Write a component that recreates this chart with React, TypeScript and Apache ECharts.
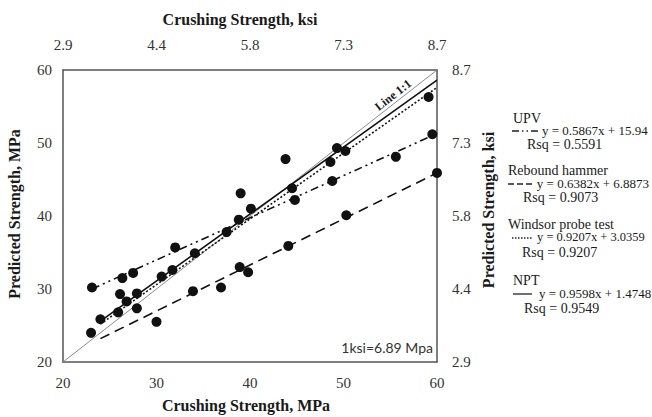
import React, { useEffect, useRef } from 'react';
import * as echarts from 'echarts';

const mpaTicks = [20, 30, 40, 50, 60];
const ksiTickLabels = ['2.9', '4.4', '5.8', '7.3', '8.7'];

const upvPoints = [[23.1, 30.2], [26.35, 31.5], [27.5, 32.2], [32.0, 35.7], [39.0, 43.1], [43.8, 47.8], [44.8, 42.2], [48.8, 44.8], [55.6, 48.1], [59.5, 51.2]];
const reboundPoints = [[23.0, 24.0], [30.0, 25.5], [33.9, 29.7], [36.9, 30.2], [38.9, 33.0], [39.8, 32.3], [44.1, 35.9], [50.3, 40.1], [60.0, 45.9]];
const windsorPoints = [[24.0, 25.85], [26.1, 29.3], [27.9, 27.35], [30.55, 31.7], [34.1, 34.9], [38.8, 39.5], [44.5, 43.8], [48.6, 47.4], [50.2, 48.9]];
const nptPoints = [[25.9, 26.8], [26.8, 28.3], [27.9, 29.4], [31.7, 32.6], [37.5, 37.8], [40.1, 41.0], [49.3, 49.3], [59.1, 56.3]];

const upvTrend = [[23.1, 30.0], [60, 51.3]];
const reboundTrend = [[24, 23.2], [60, 45.9]];
const windsorTrend = [[24, 25.2], [60, 57.6]];
const nptTrend = [[24, 25.6], [60, 58.6]];
const oneToOne = [[20, 20], [60, 60]];

const legendRows = [
  { name: 'UPV', eq: 'y = 0.5867x + 15.94', rsq: 'Rsq = 0.5591' },
  { name: 'Rebound hammer', eq: 'y = 0.6382x + 6.8873', rsq: 'Rsq = 0.9073' },
  { name: 'Windsor probe test', eq: 'y = 0.9207x + 3.0359', rsq: 'Rsq = 0.9207' },
  { name: 'NPT', eq: 'y = 0.9598x + 1.4748', rsq: 'Rsq = 0.9549' },
];

const SERIF = '"Liberation Serif", "Times New Roman", serif';
const TXT = '#1a1a1a';
const AX = '#555';

function txt(text: string, x: number, y: number, opts: any = {}) {
  return {
    type: 'text',
    x,
    y,
    rotation: opts.rotation || 0,
    z: 100,
    style: {
      text,
      fill: opts.fill || TXT,
      font: opts.font || `14px ${SERIF}`,
      align: opts.align || 'left',
      textAlign: opts.align || 'left',
      verticalAlign: 'middle',
      textVerticalAlign: 'middle',
    },
  };
}

function lineEl(x1: number, x2: number, y: number, dash: any) {
  return {
    type: 'line',
    z: 100,
    shape: { x1, y1: y, x2, y2: y },
    style: { stroke: '#222', lineWidth: 1.3, lineDash: dash },
  };
}

export default function App() {
  const ref = useRef<HTMLDivElement>(null);
  useEffect(() => {
    const chart = echarts.init(ref.current!, null, { renderer: 'svg' });
    const axisCommon = {
      type: 'value',
      min: 20,
      max: 60,
      interval: 10,
      axisTick: { show: false },
      splitLine: { show: false },
      axisLine: { show: true, onZero: false, lineStyle: { color: AX, width: 1.5 } },
    };
    const lbl = { fontFamily: SERIF, fontSize: 15, color: '#333' };
    const ksiFmt = (v: number) => ksiTickLabels[mpaTicks.indexOf(v)] ?? '';
    const scatter = (data: number[][]) => ({
      type: 'scatter',
      data,
      symbolSize: 10,
      itemStyle: { color: '#111', opacity: 1 },
      z: 5,
    });
    const trend = (data: number[][], type: any, width = 1.6, color = '#111') => ({
      type: 'line',
      data,
      showSymbol: false,
      symbol: 'none',
      lineStyle: { color, width, type },
      z: 3,
    });
    const EQ = `13px ${SERIF}`;
    const rowY = [[118, 130, 144], [170, 183, 197], [224, 237, 252], [280, 293, 308]];
    const graphic: any[] = [
      txt('Crushing Strength, ksi', 240, 19, { font: `bold 16px ${SERIF}`, align: 'center' }),
      txt('Crushing Strength, MPa', 246, 405, { font: `bold 16px ${SERIF}`, align: 'center' }),
      txt('Predicted Strength, MPa', 14, 214, { font: `bold 16px ${SERIF}`, align: 'center', rotation: Math.PI / 2 }),
      txt('Predicted Strength, ksi', 488, 210, { font: `bold 16px ${SERIF}`, align: 'center', rotation: Math.PI / 2 }),
      txt('1ksi=6.89 Mpa', 433, 347, { font: `14px Lato, "Open Sans", sans-serif`, align: 'right', fill: '#333' }),
      txt('Line 1:1', 393, 95, { font: `bold 12px ${SERIF}`, align: 'center', rotation: (38 * Math.PI) / 180 }),
      // legend
      txt(legendRows[0].name, 513, rowY[0][0]),
      lineEl(512, 540, rowY[0][1] + 1, [7, 3, 1.5, 3, 1.5, 3]),
      txt(legendRows[0].eq, 542, rowY[0][1], { font: EQ }),
      txt(legendRows[0].rsq, 527, rowY[0][2]),
      txt(legendRows[1].name, 508, rowY[1][0]),
      lineEl(508, 532, rowY[1][1] + 1, [6, 3]),
      txt(legendRows[1].eq, 649, rowY[1][1], { align: 'right', font: EQ }),
      txt(legendRows[1].rsq, 523, rowY[1][2]),
      txt(legendRows[2].name, 508, rowY[2][0]),
      lineEl(512, 532, rowY[2][1] + 1, [1.5, 1.5]),
      txt(legendRows[2].eq, 537, rowY[2][1], { font: `12.5px ${SERIF}` }),
      txt(legendRows[2].rsq, 522, rowY[2][2]),
      txt(legendRows[3].name, 513, rowY[3][0]),
      lineEl(513, 532, rowY[3][1] + 1, null),
      txt(legendRows[3].eq, 539, rowY[3][1], { font: EQ }),
      txt(legendRows[3].rsq, 524, rowY[3][2]),
    ];
    chart.setOption({
      animation: false,
      backgroundColor: '#fff',
      grid: { left: 63, top: 70, width: 374, height: 292, containLabel: false },
      xAxis: [
        { ...axisCommon, position: 'bottom', axisLabel: { ...lbl, margin: 13 } },
        { ...axisCommon, position: 'top', axisLabel: { ...lbl, margin: 18, formatter: ksiFmt } },
      ],
      yAxis: [
        { ...axisCommon, position: 'left', axisLabel: { ...lbl, margin: 11 } },
        { ...axisCommon, position: 'right', axisLabel: { ...lbl, margin: 15, formatter: ksiFmt } },
      ],
      series: [
        trend(oneToOne, 'solid', 1, '#8c8c8c'),
        trend(upvTrend, [8, 4, 2, 4, 2, 4]),
        trend(reboundTrend, [10, 6]),
        trend(windsorTrend, [2, 2]),
        trend(nptTrend, 'solid'),
        scatter(upvPoints),
        scatter(reboundPoints),
        scatter(windsorPoints),
        scatter(nptPoints),
      ],
      graphic,
    });
    return () => chart.dispose();
  }, []);
  return <div ref={ref} style={{ position: 'absolute', left: 0, top: 0, width: 652, height: 417 }} />;
}
